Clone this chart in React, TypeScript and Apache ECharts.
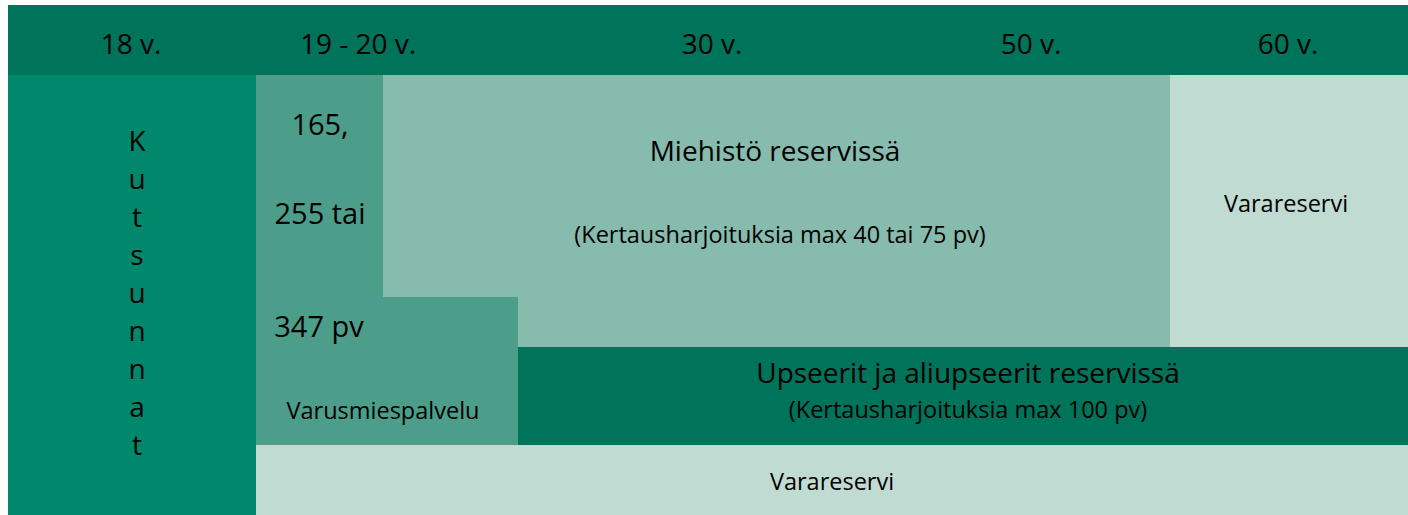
import React, { useEffect, useRef } from "react";
import * as echarts from "echarts";

// Panels of the diagram, in diagram units (x: 0..1400 from left, y: 0..510 from top)
const PANEL_NAMES = ["header", "kutsunnat", "varusmiespalvelu", "miehisto", "varareserviOikea", "upseerit", "varareserviAla"];
const PANEL_SHAPES: number[][][] = [
  [[0, 0], [1400, 0], [1400, 70], [0, 70]],
  [[0, 70], [248, 70], [248, 510], [0, 510]],
  [[248, 70], [375, 70], [375, 292], [510, 292], [510, 440], [248, 440]],
  [[375, 70], [1162, 70], [1162, 342], [510, 342], [510, 292], [375, 292]],
  [[1162, 70], [1400, 70], [1400, 342], [1162, 342]],
  [[510, 342], [1400, 342], [1400, 440], [510, 440]],
  [[248, 440], [1400, 440], [1400, 510], [248, 510]],
];
const PANEL_COLORS = ["#00745A", "#00876C", "#4C9E8B", "#86BBAD", "#C0DBD2", "#00745A", "#C0DBD2"];

// Age tick labels in the header
const AGE_LABELS = ["18 v.", "19 - 20 v.", "30 v.", "50 v.", "60 v."];
const AGE_X = [123, 350, 704, 1023, 1280];

// Texts inside panels
const TEXTS = [
  "K\nu\nt\ns\nu\nn\nn\na\nt",
  "165,",
  "255 tai",
  "347 pv",
  "Varusmiespalvelu",
  "Miehistö reservissä",
  "(Kertausharjoituksia max 40 tai 75 pv)",
  "Varareservi",
  "Upseerit ja aliupseerit reservissä",
  "(Kertausharjoituksia max 100 pv)",
  "Varareservi",
];
const TEXT_POS: number[][] = [
  [129, 287], [312, 118], [312, 207], [311, 320], [375, 405], [767, 145], [772, 229], [1278, 198], [960, 367], [960, 404], [824, 476],
];
const TEXT_SIZE = [28, 29, 29, 29, 23.5, 28, 23.5, 23.5, 28, 23.5, 23.5];

const FONT = "'Open Sans', 'Noto Sans', sans-serif";

export default function App() {
  const ref = useRef<HTMLDivElement>(null);
  useEffect(() => {
    document.body.style.margin = "0";
    const chart = echarts.init(ref.current!, null, { renderer: "svg" });
    chart.setOption({
      animation: false,
      grid: { left: 8, top: 5, right: 0, bottom: 0 },
      xAxis: { type: "value", min: 0, max: 1400, show: false },
      yAxis: { type: "value", min: 0, max: 510, inverse: true, show: false },
      series: [
        {
          type: "custom",
          name: "panels",
          data: PANEL_NAMES.map((_, i) => [i]),
          renderItem: (params: any, api: any) => {
            const pts = PANEL_SHAPES[params.dataIndex].map((p) => api.coord(p));
            return {
              type: "polygon",
              shape: { points: pts },
              style: { fill: PANEL_COLORS[params.dataIndex] },
            };
          },
        },
        {
          type: "custom",
          name: "ages",
          data: AGE_LABELS.map((_, i) => [AGE_X[i], 38]),
          renderItem: (params: any, api: any) => {
            const c = api.coord([api.value(0), api.value(1)]);
            return {
              type: "text",
              x: c[0],
              y: c[1],
              style: {
                text: AGE_LABELS[params.dataIndex],
                fontSize: 28,
                fontFamily: FONT,
                fill: "#000",
                align: "center",
                verticalAlign: "middle",
              },
            };
          },
        },
        {
          type: "custom",
          name: "texts",
          data: TEXT_POS,
          renderItem: (params: any, api: any) => {
            const i = params.dataIndex;
            const c = api.coord([api.value(0), api.value(1)]);
            return {
              type: "text",
              x: c[0],
              y: c[1],
              style: {
                text: TEXTS[i],
                fontSize: TEXT_SIZE[i],
                fontFamily: FONT,
                lineHeight: i === 0 ? 38 : TEXT_SIZE[i] * 1.3,
                fill: "#000",
                align: "center",
                verticalAlign: "middle",
              },
            };
          },
        },
      ],
    });
    return () => chart.dispose();
  }, []);
  return <div ref={ref} style={{ width: 1408, height: 515 }} />;
}
